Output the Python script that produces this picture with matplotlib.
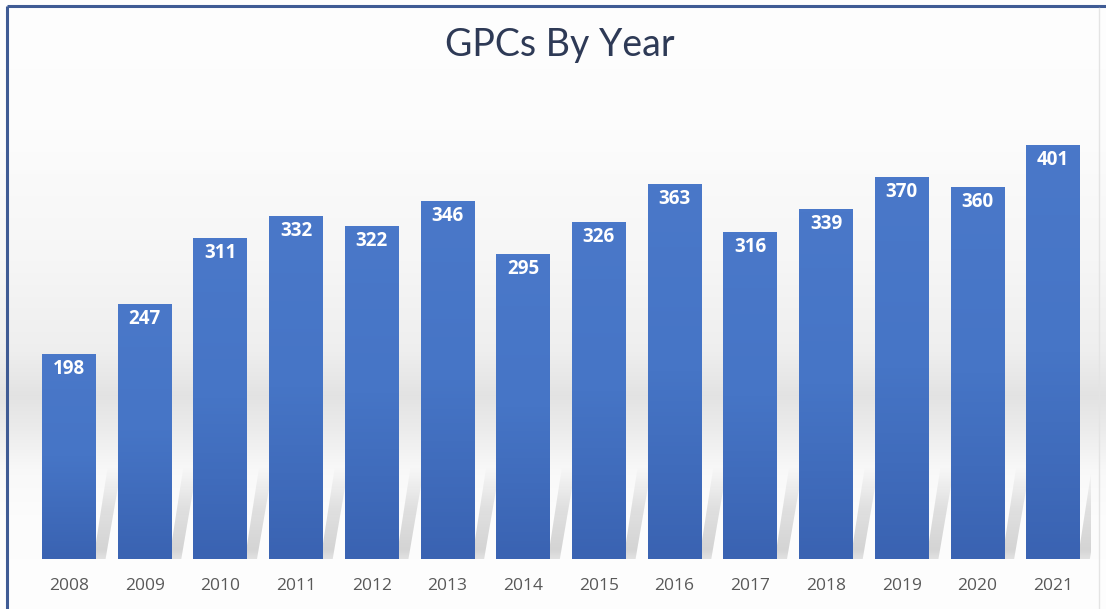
import numpy as np
import matplotlib.pyplot as plt
from matplotlib.patches import Polygon
from matplotlib.colors import LinearSegmentedColormap

years = ["2008", "2009", "2010", "2011", "2012", "2013", "2014",
         "2015", "2016", "2017", "2018", "2019", "2020", "2021"]
gpcs = [198, 247, 311, 332, 322, 346, 295, 326, 363, 316, 339, 370, 360, 401]

W, H = 1106, 609
fig = plt.figure(figsize=(W / 100, H / 100), dpi=100)

# background: white with a soft gray band behind the lower part of the bars
bg = fig.add_axes([0, 0, 1, 1], zorder=-2)
rows = np.arange(H)
level = np.interp(rows, [0, 120, 260, 350, 395, 430, 470, 520, H],
                  [0.995, 0.99, 0.965, 0.935, 0.89, 0.925, 0.975, 0.99, 0.995])
img = np.stack([level, level, level], axis=-1)[:, None, :].repeat(4, axis=1)
bg.imshow(img, aspect="auto", extent=[0, 1, 0, 1], origin="upper")
bg.set_xlim(0, 1)
bg.set_ylim(0, 1)
bg.axis("off")
# chart border (top and left visible)
bg.plot([7 / W, 7 / W], [0, 1 - 6 / H], color="#3F5B94", lw=2.2, solid_capstyle="butt")
bg.plot([7 / W, 1], [1 - 6 / H, 1 - 6 / H], color="#3F5B94", lw=2.2, solid_capstyle="butt")
bg.plot([1099 / W, 1099 / W], [0, 1 - 8 / H], color="#E4E4E4", lw=1)

ax = fig.add_axes([31 / W, 50 / H, 1060 / W, 465 / H])
ax.patch.set_alpha(0)
x = np.arange(len(years))
bw = 0.71
bars = ax.bar(x, gpcs, width=bw, color="#4472C4", zorder=3)

# vertical gradient on each bar
cmap = LinearSegmentedColormap.from_list("blu", ["#3A63B2", "#4675C6", "#4A78C9"])
grad = np.linspace(0, 1, 100)[:, None]
for b in bars:
    x0 = b.get_x()
    im = ax.imshow(grad, cmap=cmap, aspect="auto", origin="lower",
                   extent=[x0, x0 + b.get_width(), 0, b.get_height()], zorder=3)
    im.set_clip_path(b)

# soft slanted shadows cast to the right of each bar, fading upwards
sh_h = 90
yy = np.linspace(0, 1, 60)
alpha = np.interp(yy, [0, 0.1, 0.55, 1], [0.22, 0.32, 0.22, 0.0])
sh = np.zeros((60, 2, 4))
sh[..., :3] = 0.5
sh[..., 3] = alpha[:, None]
for i in x:
    xr = i + bw / 2
    poly = Polygon([(xr - 0.03, 0), (xr + 0.13, 0), (xr + 0.34, sh_h), (xr + 0.16, sh_h)],
                   closed=True, facecolor="none", lw=0)
    ax.add_patch(poly)
    sim = ax.imshow(sh, aspect="auto", origin="lower", interpolation="bilinear",
                    extent=[xr - 0.03, xr + 0.34, 0, sh_h], zorder=2)
    sim.set_clip_path(poly)

for i, v in zip(x, gpcs):
    ax.text(i, v - 14.5, str(v), ha="center", va="center", color="white",
            fontsize=13.5, fontweight="bold", family="Open Sans", zorder=4)

ax.set_xlim(-0.5, len(years) - 0.5)
ax.set_ylim(0, 450)
ax.set_xticks(x)
ax.set_xticklabels(years, fontsize=12.5, color="#595959", family="Open Sans")
ax.tick_params(axis="x", length=0, pad=14)
ax.set_yticks([])
for s in ax.spines.values():
    s.set_visible(False)

fig.text(560 / W, 1 - 45 / H, "GPCs By Year", ha="center", va="center",
         fontsize=27, color="#2E3A56", family="Lato")

fig.savefig("out.png", dpi=100)
